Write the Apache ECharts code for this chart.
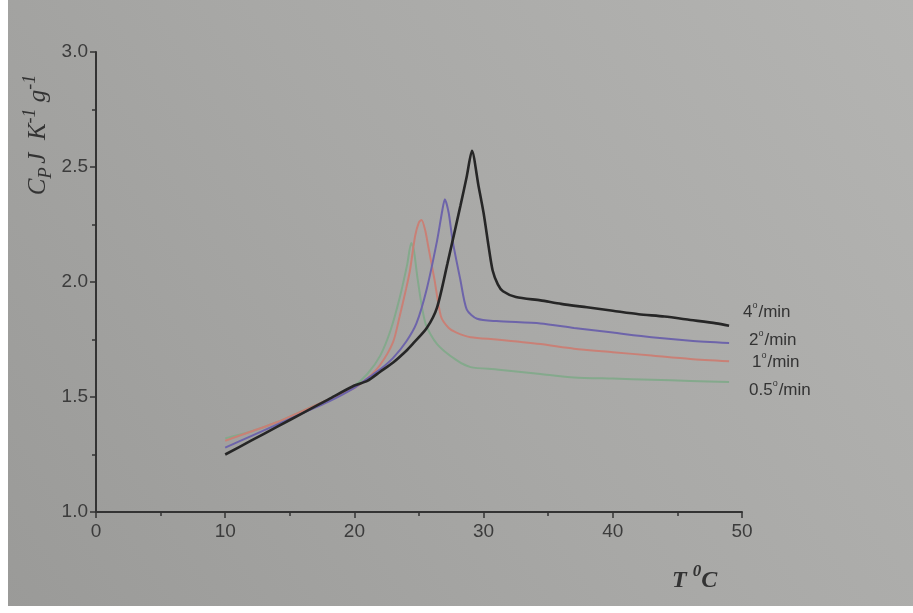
<!DOCTYPE html>
<html>
<head>
<meta charset="utf-8">
<script src="https://cdn.jsdelivr.net/npm/echarts@6/dist/echarts.min.js"></script>
<style>
  html, body { margin: 0; padding: 0; }
  #chart { width: 913px; height: 613px; }
</style>
</head>
<body>
<div id="chart"></div>
<script>
// heat capacity vs temperature, four heating rates
const rateNums = ['4', '2', '1', '0.5'];
const lineColors = ['#262626', '#6d64aa', '#c98076', '#84a98c'];

const t4 = [10, 12, 14, 16, 18, 20, 21, 22, 23, 24, 24.5, 25.6, 26.4, 27.2, 28.2, 28.7, 29.1, 29.6, 30.0, 30.4, 30.7, 31.1, 31.5, 32.5, 34.4, 36, 38, 40, 42, 44, 46, 48, 49];
const cp4 = [1.25, 1.31, 1.37, 1.43, 1.49, 1.55, 1.57, 1.61, 1.65, 1.70, 1.73, 1.80, 1.89, 2.08, 2.33, 2.46, 2.57, 2.42, 2.30, 2.15, 2.05, 1.99, 1.96, 1.935, 1.92, 1.905, 1.89, 1.875, 1.86, 1.85, 1.835, 1.82, 1.81];

const t2 = [10, 12, 14, 16, 18, 20, 21, 22, 23, 24, 24.8, 25.6, 26.4, 26.8, 27.0, 27.3, 27.6, 28.2, 28.7, 29.5, 31, 34.4, 37, 40, 43, 46, 49];
const cp2 = [1.28, 1.33, 1.38, 1.43, 1.48, 1.54, 1.58, 1.62, 1.67, 1.74, 1.82, 1.97, 2.18, 2.31, 2.36, 2.30, 2.18, 2.01, 1.88, 1.84, 1.83, 1.82, 1.80, 1.78, 1.76, 1.745, 1.735];

const t1 = [10, 12, 14, 16, 18, 20, 21, 22, 23, 23.5, 24, 24.3, 24.7, 25.0, 25.2, 25.5, 25.7, 26.2, 26.7, 27.3, 27.9, 29, 31, 34.4, 37, 40, 43, 46, 49];
const cp1 = [1.31, 1.35, 1.39, 1.44, 1.49, 1.54, 1.58, 1.64, 1.74, 1.85, 1.97, 2.05, 2.20, 2.26, 2.27, 2.22, 2.16, 2.01, 1.85, 1.80, 1.78, 1.76, 1.75, 1.73, 1.71, 1.695, 1.68, 1.665, 1.655];

const t05 = [10, 12, 14, 16, 18, 20, 21, 22, 22.8, 23.5, 24.1, 24.4, 24.6, 24.9, 25.5, 26.4, 27.9, 29, 31, 34.4, 37, 40, 43, 46, 49];
const cp05 = [1.32, 1.35, 1.39, 1.44, 1.49, 1.55, 1.60, 1.68, 1.79, 1.93, 2.08, 2.17, 2.14, 2.01, 1.82, 1.73, 1.66, 1.63, 1.62, 1.60, 1.585, 1.58, 1.575, 1.57, 1.565];

const xTicks = [0, 10, 20, 30, 40, 50];
const yTicks = [1.0, 1.5, 2.0, 2.5, 3.0];

const allT = [t4, t2, t1, t05];
const allCp = [cp4, cp2, cp1, cp05];

const chart = echarts.init(document.getElementById('chart'), null, { renderer: 'canvas' });

const axisColor = '#333';
const labelStyle = { color: '#3c3c3c', fontSize: 19, fontFamily: 'Liberation Sans, Arial, sans-serif' };
const serif = 'Liberation Serif, serif';

const series = allT.map((ts, i) => ({
  name: rateNums[i] + '°/min',
  type: 'line',
  data: ts.map((t, k) => [t, allCp[i][k]]),
  showSymbol: false,
  smooth: 0.25,
  lineStyle: { color: lineColors[i], width: i === 0 ? 2.6 : 2 },
  z: 10 - i
}));

const labelPos = [[743, 311], [749, 339], [752, 361], [749, 389]];

chart.setOption({
  backgroundColor: {
    type: 'linear', x: 0, y: 1, x2: 1, y2: 0,
    colorStops: [
      { offset: 0, color: '#9a9a98' },
      { offset: 0.5, color: '#a8a8a6' },
      { offset: 1, color: '#b4b4b2' }
    ]
  },
  animation: false,
  grid: { left: 96, right: 171, top: 52, bottom: 101 },
  xAxis: {
    type: 'value', min: 0, max: 50, interval: 10,
    axisLine: { show: true, lineStyle: { color: axisColor, width: 2 } },
    axisTick: { show: true, length: 6, lineStyle: { color: axisColor, width: 1.5 } },
    minorTick: { show: true, splitNumber: 2, length: 4, lineStyle: { color: axisColor, width: 1.5 } },
    splitLine: { show: false },
    axisLabel: Object.assign({ margin: 10, formatter: v => xTicks.includes(v) ? String(v) : '' }, labelStyle)
  },
  yAxis: {
    type: 'value', min: 1, max: 3, interval: 0.5,
    axisLine: { show: true, lineStyle: { color: axisColor, width: 2 } },
    axisTick: { show: true, length: 6, lineStyle: { color: axisColor, width: 1.5 } },
    minorTick: { show: true, splitNumber: 2, length: 4, lineStyle: { color: axisColor, width: 1.5 } },
    splitLine: { show: false },
    axisLabel: Object.assign({ margin: 8, formatter: v => yTicks.includes(v) ? v.toFixed(1) : '' }, labelStyle)
  },
  series: series,
  graphic: [
    { type: 'rect', shape: { x: 0, y: 0, width: 8, height: 613 }, style: { fill: '#fff' }, silent: true },
    { type: 'rect', shape: { x: 0, y: 606, width: 913, height: 7 }, style: { fill: '#fff' }, silent: true },
    {
      type: 'text', x: 38, y: 135, rotation: Math.PI / 2,
      style: {
        text: '{c|C}{s|P} {c|J  K}{u|-1}{c| g}{u|-1}',
        textAlign: 'center', textVerticalAlign: 'middle',
        fill: '#333',
        rich: {
          c: { fontSize: 25, fontStyle: 'italic', fontFamily: serif, fill: '#333', lineHeight: 34, verticalAlign: 'middle' },
          s: { fontSize: 19, fontStyle: 'italic', fontFamily: serif, fill: '#333', lineHeight: 34, verticalAlign: 'bottom' },
          u: { fontSize: 18, fontStyle: 'italic', fontFamily: serif, fill: '#333', lineHeight: 34, verticalAlign: 'top' }
        }
      }
    },
    {
      type: 'text', x: 672, y: 578,
      style: {
        text: '{c|T }{u|0}{c|C}',
        textVerticalAlign: 'middle',
        rich: {
          c: { fontSize: 24, fontStyle: 'italic', fontWeight: 'bold', fontFamily: serif, fill: '#333', lineHeight: 30, verticalAlign: 'bottom' },
          u: { fontSize: 17, fontStyle: 'italic', fontWeight: 'bold', fontFamily: serif, fill: '#333', lineHeight: 30, verticalAlign: 'top' }
        }
      }
    }
  ].concat(rateNums.map((n, i) => ({
    type: 'text', x: labelPos[i][0], y: labelPos[i][1],
    style: {
      text: '{n|' + n + '}{d|o}{n|/min}', textVerticalAlign: 'middle',
      rich: {
        n: { fontSize: 17, fontFamily: 'Liberation Sans, Arial, sans-serif', fill: '#333', lineHeight: 20, verticalAlign: 'bottom' },
        d: { fontSize: 9, fontFamily: 'Liberation Sans, Arial, sans-serif', fill: '#333', lineHeight: 20, verticalAlign: 'top', padding: [0, 1, 0, 0] }
      }
    }
  })))
});
</script>
</body>
</html>
